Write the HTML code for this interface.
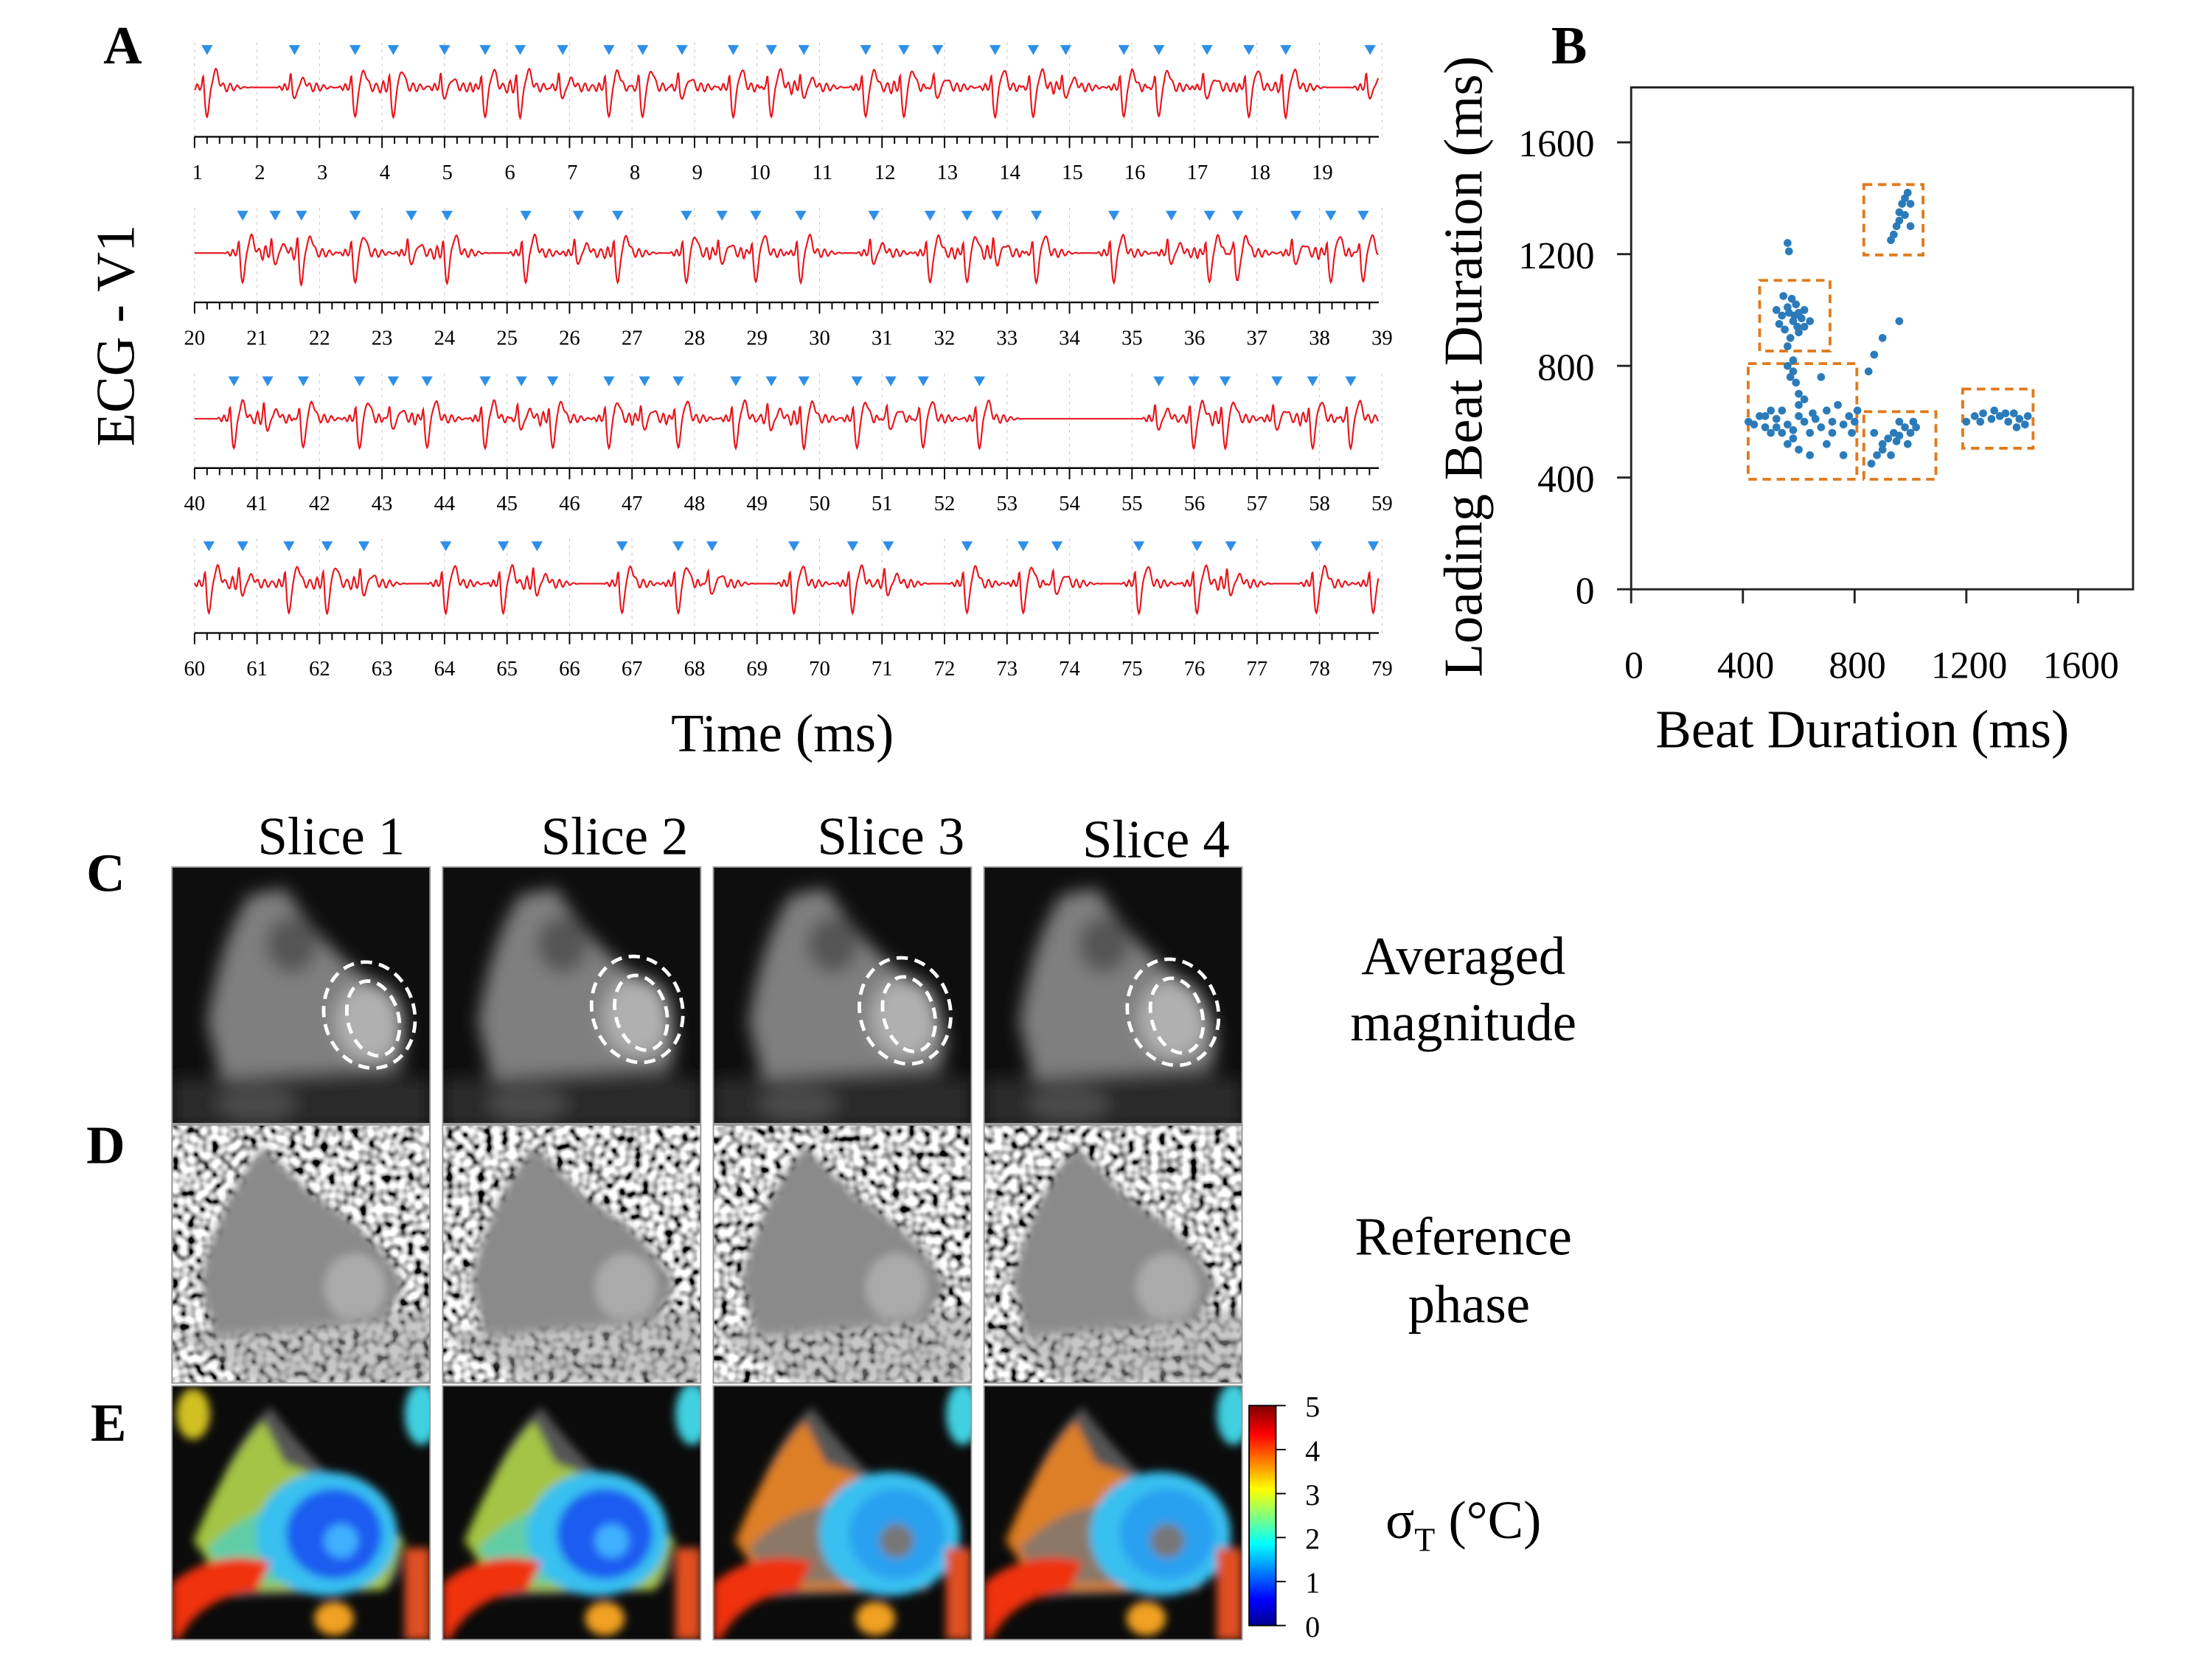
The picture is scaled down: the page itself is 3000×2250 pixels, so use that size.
<!DOCTYPE html>
<html><head><meta charset="utf-8"><style>
html,body{margin:0;padding:0;background:#fff;}
svg{display:block;}
text{font-family:"Liberation Serif",serif;fill:#000;}
</style></head><body>
<svg id="fig" width="3000" height="2250" viewBox="0 0 1569 1176.75" preserveAspectRatio="none" xmlns="http://www.w3.org/2000/svg">
<defs>
 <filter id="blur3" x="-30%" y="-30%" width="160%" height="160%"><feGaussianBlur stdDeviation="3"/></filter>
 <filter id="blur6" x="-30%" y="-30%" width="160%" height="160%"><feGaussianBlur stdDeviation="6"/></filter>
 <filter id="noise" x="0" y="0" width="100%" height="100%">
  <feTurbulence type="fractalNoise" baseFrequency="0.18" numOctaves="1" seed="3"/>
  <feColorMatrix type="matrix" values="3 0 0 0 -0.9  3 0 0 0 -0.9  3 0 0 0 -0.9  0 0 0 0 1"/>
 </filter>
 <linearGradient id="jet" x1="0" y1="1" x2="0" y2="0">
  <stop offset="0" stop-color="#00008f"/><stop offset="0.12" stop-color="#0000ff"/>
  <stop offset="0.37" stop-color="#00ffff"/><stop offset="0.62" stop-color="#ffff00"/>
  <stop offset="0.87" stop-color="#ff0000"/><stop offset="1" stop-color="#800000"/>
 </linearGradient>
</defs>

<text x="87" y="45" font-size="38" font-weight="bold" text-anchor="middle">A</text>
<text transform="translate(95,238) rotate(-90)" font-size="39" text-anchor="middle">ECG - V1</text>
<text x="555" y="533" font-size="38" text-anchor="middle">Time (ms)</text>
<g id="ecg"></g>

<text x="1113" y="45" font-size="38" font-weight="bold" text-anchor="middle">B</text>
<g id="scatter"></g>
<text x="1321" y="530" font-size="38" text-anchor="middle">Beat Duration (ms)</text>
<text transform="translate(1051,260) rotate(-90)" font-size="39" text-anchor="middle">Loading Beat Duration (ms)</text>

<text x="75" y="632" font-size="38" font-weight="bold" text-anchor="middle">C</text>
<text x="75" y="825" font-size="38" font-weight="bold" text-anchor="middle">D</text>
<text x="77" y="1022" font-size="38" font-weight="bold" text-anchor="middle">E</text>
<text x="235" y="606" font-size="38" text-anchor="middle">Slice 1</text>
<text x="436" y="606" font-size="38" text-anchor="middle">Slice 2</text>
<text x="632" y="606" font-size="38" text-anchor="middle">Slice 3</text>
<text x="820" y="608" font-size="38" text-anchor="middle">Slice 4</text>
<text x="1038" y="691" font-size="38" text-anchor="middle">Averaged</text>
<text x="1038" y="738" font-size="38" text-anchor="middle">magnitude</text>
<text x="1038" y="890" font-size="38" text-anchor="middle">Reference</text>
<text x="1042" y="938" font-size="38" text-anchor="middle">phase</text>
<text x="1038" y="1091" font-size="38" text-anchor="middle">σ<tspan font-size="24" dy="9">T</tspan><tspan dy="-9"> (°C)</tspan></text>
<g id="images"></g>
<g>
 <rect x="886" y="997" width="19" height="156" fill="url(#jet)" stroke="#000" stroke-width="1"/>
</g>
<g id="cbticks"></g>
</svg>
<script>
const NS="http://www.w3.org/2000/svg";
function mk(tag,attrs,parent){const e=document.createElementNS(NS,tag);for(const k in attrs)e.setAttribute(k,attrs[k]);parent.appendChild(e);return e;}

const ecgRowStarts=[1,20,40,60];
const ecgTickLabels=[[1,2,3,4,5,6,7,8,9,10,11,12,13,14,15,16,17,18,19],[20,21,22,23,24,25,26,27,28,29,30,31,32,33,34,35,36,37,38,39],[40,41,42,43,44,45,46,47,48,49,50,51,52,53,54,55,56,57,58,59],[60,61,62,63,64,65,66,67,68,69,70,71,72,73,74,75,76,77,78,79]];
const beatsRow1=[1.2,2.6,3.57,4.18,5.0,5.65,6.21,6.89,7.63,8.17,8.8,9.62,10.23,10.75,11.74,12.35,12.89,13.81,14.42,14.94,15.87,16.43,17.2,17.87,18.46,19.81];
const beatsRow2=[20.77,21.29,21.71,22.57,23.47,24.04,25.3,26.14,26.77,27.87,28.44,28.98,29.7,30.87,31.77,32.36,32.84,33.47,34.71,35.63,36.24,36.69,37.62,38.18,38.7];
const beatsRow3=[40.63,41.17,41.74,42.64,43.18,43.72,44.65,45.23,45.73,46.63,47.2,47.74,48.66,49.23,49.75,50.6,51.14,51.66,52.56,55.43,55.99,56.49,57.32,57.89,58.5];
const beatsRow4=[60.23,60.77,61.51,62.12,62.71,64.02,64.94,65.48,66.84,67.74,68.28,69.59,70.53,71.1,72.36,73.26,73.8,75.11,76.04,76.58,77.95,78.86];
const beatRows=[beatsRow1,beatsRow2,beatsRow3,beatsRow4];

const ecgG=document.getElementById('ecg');
const rowTop=[0,117.5,235,352];
const X0=138,UNIT=44.33;
beatRows.forEach((beats,r)=>{
  const off=rowTop[r], start=ecgRowStarts[r];
  const xs=t=>X0+(t-start)*UNIT;
  const base=62+off, axisY=97+off;
  for(let i=0;i<=19;i++){
    const l=mk('line',{x1:xs(start+i),x2:xs(start+i),y1:30+off,y2:axisY,stroke:'#ccc','stroke-width':0.6,'stroke-dasharray':'2,3'},ecgG);
    
    
  }
  const ax=mk('line',{x1:X0,x2:978,y1:axisY,y2:axisY,stroke:'#000','stroke-width':1.2},ecgG);
  
  
  for(let i=0;i<=95;i++){
    const t=start+i*0.2, x=xs(t); if(x>978.5)break;
    const major=(i%5===0);
    const tk=mk('line',{x1:x,x2:x,y1:axisY,y2:axisY+(major?8:5),stroke:'#000','stroke-width':1},ecgG);
    
    
  }
  ecgTickLabels[r].forEach(v=>{
    const tx=mk('text',{x:xs(v)+(r===0?2:0),y:axisY+30,'font-size':15,'text-anchor':'middle'},ecgG);
    tx.textContent=v;
    
    
  });
  let d='';
  const tEnd=start+(978-X0)/UNIT;
  for(let t=start;t<=tEnd;t+=0.01){
    let y=0;
    beats.forEach((b,k)=>{
      const dt=t-b;
      if(dt<-0.3||dt>0.8)return;
      const big=(k%3!==1);
      y+=11*Math.exp(-Math.pow((dt+0.06)/0.02,2));
      y-=(big?21:8)*Math.exp(-Math.pow(dt/0.045,2));
      y+=(big?12:6)*Math.exp(-Math.pow((dt-0.14)/0.06,2));
      y+=3*Math.sin(dt*55+k)*Math.exp(-Math.pow((dt-0.32)/0.2,2));
      y+=2.5*Math.sin(dt*70)*Math.exp(-Math.pow((dt+0.16)/0.08,2));
    });
    d+=(d?'L':'M')+xs(t).toFixed(1)+','+(base-y).toFixed(1);
  }
  const p=mk('path',{d:d,fill:'none',stroke:'#e8141b','stroke-width':1.1},ecgG);
  
  
  beats.forEach(b=>{
    const x=xs(b),y=32+off;
    const tri=mk('polygon',{points:`${x-4},${y} ${x+4},${y} ${x},${y+7}`,fill:'#2f8fe8'},ecgG);
    
    
  });
});

const xTicks=[0,400,800,1200,1600];
const yTicks=[0,400,800,1200,1600];
const beatDur=[520,540,560,580,600,620,550,570,590,610,530,575,600,560,620,545,585,640,595,565,560,565,
560,580,570,590,600,580,
420,440,460,480,500,520,540,560,580,600,620,640,660,680,700,720,740,760,780,500,540,560,600,640,700,760,600,620,580,480,520,650,680,720,790,800,810,
930,950,960,970,980,990,960,1000,1000,980,940,
870,900,960,850,
860,880,900,920,940,960,980,1000,1020,900,950,990,870,930,1010,960,
1200,1230,1260,1290,1320,1350,1370,1390,1410,1380,1340,1300,1250,1420];
const loadDur=[1000,980,1010,960,990,940,930,900,1020,970,950,1040,920,870,1000,1050,980,960,940,990,1240,1210,
800,780,760,740,700,820,
600,590,620,580,560,610,640,590,570,620,600,560,610,580,640,600,660,590,620,640,560,520,500,480,520,480,660,680,540,620,580,630,760,560,560,600,640,
1250,1300,1350,1380,1400,1420,1320,1380,1300,1340,1270,
840,900,960,780,
450,480,520,540,560,550,580,560,580,500,530,520,560,480,600,600,
600,620,630,610,620,600,630,610,590,580,630,640,600,620];
const boxX0=[419,460,833,833,1187], boxX1=[808,712,1045,1091,1439];
const boxY0=[394,853,1197,394,505], boxY1=[808,1106,1449,636,717];

const sg=document.getElementById('scatter');
const PX0=1157,PY0=418,K=(1474-1157)/1600;
const sx=v=>PX0+v*K, sy=v=>PY0-v*K;
const fr=mk('rect',{x:1157,y:62,width:356,height:356,fill:'none',stroke:'#222','stroke-width':1.5},sg);


xTicks.forEach(v=>{
  const l=mk('line',{x1:sx(v),x2:sx(v),y1:418,y2:428,stroke:'#222','stroke-width':1.5},sg);
  
  
  const t=mk('text',{x:sx(v)+2,y:481,'font-size':27,'text-anchor':'middle'},sg);
  t.textContent=v;
  
  
});
yTicks.forEach(v=>{
  const l=mk('line',{x1:1147,x2:1157,y1:sy(v),y2:sy(v),stroke:'#222','stroke-width':1.5},sg);
  
  
  const t=mk('text',{x:1131,y:sy(v)+10,'font-size':27,'text-anchor':'end'},sg);
  t.textContent=v;
  
  
});
boxX0.forEach((b,i)=>{
  const r=mk('rect',{x:sx(b),y:sy(boxY1[i]),width:sx(boxX1[i])-sx(b),height:sy(boxY0[i])-sy(boxY1[i]),fill:'none',stroke:'#e07a1c','stroke-width':2,'stroke-dasharray':'6,4'},sg);
  
  
});
beatDur.forEach((v,i)=>{
  const c=mk('circle',{cx:sx(v),cy:sy(loadDur[i]),r:2.8,fill:'#2b7bba'},sg);
  
  
});

const ig=document.getElementById('images');
const colX=[122,314,506,698], rowY=[615,798,983], W=183, H=[182,183,180];
const ringCx=[262,452,642,832], ringCy=[720,716,717,718];
colX.forEach((x0,c)=>{
  rowY.forEach((y0,r)=>{
    const g=mk('g',{},ig);
    
    
    const cid='clip'+c+'_'+r;
    const cp=mk('clipPath',{id:cid},g); mk('rect',{x:x0,y:y0,width:W,height:H[r]},cp);
    const inner=mk('g',{'clip-path':`url(#${cid})`},g);
    if(r===0){
      mk('rect',{x:x0,y:y0,width:W,height:H[r],fill:'#0e0e0e'},inner);
      const b=mk('g',{filter:'url(#blur6)'},inner);
      mk('path',{d:`M${x0+25},${y0+110} Q${x0+35},${y0+50} ${x0+55},${y0+20} L${x0+80},${y0+15} Q${x0+105},${y0+55} ${x0+140},${y0+80} Q${x0+175},${y0+110} ${x0+160},${y0+145} L${x0+35},${y0+150} Z`,fill:'#7f7f7f'},b);
      mk('ellipse',{cx:x0+85,cy:y0+55,rx:18,ry:20,fill:'#555'},b);
      mk('ellipse',{cx:ringCx[c],cy:ringCy[c]+5,rx:24,ry:28,fill:'#b0b0b0'},b);
      mk('rect',{x:x0,y:y0+150,width:W,height:35,fill:'#2c2c2c'},b);
      mk('ellipse',{cx:x0+60,cy:y0+168,rx:28,ry:14,fill:'#4a4a4a'},b);
      const rx=ringCx[c],ry=ringCy[c];
      mk('ellipse',{cx:rx,cy:ry,rx:32,ry:38,transform:`rotate(-15 ${rx} ${ry})`,fill:'none',stroke:'#fff','stroke-width':2.5,'stroke-dasharray':'8,5'},inner);
      mk('ellipse',{cx:rx+2,cy:ry+3,rx:18,ry:27,transform:`rotate(-15 ${rx} ${ry})`,fill:'none',stroke:'#fff','stroke-width':2.5,'stroke-dasharray':'8,5'},inner);
    } else if(r===1){
      mk('rect',{x:x0,y:y0,width:W,height:H[r],fill:'#888',filter:'url(#noise)'},inner);
      const b=mk('g',{filter:'url(#blur3)'},inner);
      mk('path',{d:`M${x0+20},${y0+110} Q${x0+35},${y0+50} ${x0+65},${y0+15} L${x0+100},${y0+50} Q${x0+150},${y0+80} ${x0+165},${y0+115} L${x0+150},${y0+140} L${x0+30},${y0+150} Z`,fill:'#8a8a8a'},b);
      mk('ellipse',{cx:x0+130,cy:y0+115,rx:22,ry:24,fill:'#aaa'},b);
      mk('path',{d:`M${x0},${y0+148} L${x0+W},${y0+130} L${x0+W},${y0+H[r]} L${x0+60},${y0+H[r]} Z`,fill:'#999',opacity:0.55},b);
    } else {
      mk('rect',{x:x0,y:y0,width:W,height:H[r],fill:'#0b0b0b'},inner);
      const b=mk('g',{filter:'url(#blur3)'},inner);
      mk('path',{d:`M${x0+20},${y0+110} Q${x0+40},${y0+40} ${x0+70},${y0+15} Q${x0+110},${y0+70} ${x0+150},${y0+90} Q${x0+175},${y0+130} ${x0+150},${y0+145} L${x0+40},${y0+150} Z`,fill:'#555'},b);
      const hot=c>=2;
      mk('path',{d:`M${x0+15},${y0+110} Q${x0+40},${y0+50} ${x0+65},${y0+25} L${x0+80},${y0+55} Q${x0+130},${y0+70} ${x0+165},${y0+110} L${x0+150},${y0+145} L${x0+40},${y0+145} Z`,fill:hot?'#ff8a1a':'#b8e040',opacity:0.8},b);
      mk('path',{d:`M${x0+25},${y0+115} Q${x0+60},${y0+80} ${x0+100},${y0+85} L${x0+110},${y0+140} L${x0+40},${y0+140} Z`,fill:hot?'#777':'#50d0c0',opacity:0.8},b);
      mk('ellipse',{cx:x0+(hot?125:110),cy:y0+105,rx:50,ry:44,fill:'#39c0f0'},b);
      mk('ellipse',{cx:x0+(hot?130:115),cy:y0+105,rx:34,ry:32,fill:c<2?'#1a5cf0':'#2aa0f0'},b);
      mk('ellipse',{cx:x0+(hot?130:120),cy:y0+110,rx:12,ry:12,fill:c<2?'#40b0ff':'#777'},b);
      mk('path',{d:`M${x0},${y0+140} Q${x0+30},${y0+115} ${x0+70},${y0+125} L${x0+60},${y0+145} Q${x0+20},${y0+150} ${x0+5},${y0+H[r]} L${x0},${y0+H[r]} Z`,fill:'#f03010'},b);
      mk('rect',{x:x0+W-18,y:y0+115,width:18,height:65,fill:'#e05020'},b);
      mk('ellipse',{cx:x0+W-6,cy:y0+20,rx:12,ry:22,fill:'#40d0e0'},b);
      mk('ellipse',{cx:x0+115,cy:y0+165,rx:14,ry:12,fill:'#f0a020'},b);
      if(c===0) mk('ellipse',{cx:x0+15,cy:y0+20,rx:12,ry:18,fill:'#d0c020'},b);
    }
    mk('rect',{x:x0,y:y0,width:W,height:H[r],fill:'none',stroke:'#999','stroke-width':1},g);
  });
});

const cbTicks=[0,1,2,3,4,5];
const cbt=document.getElementById('cbticks');
cbTicks.forEach(v=>{
  const y=1153-v*(156/5);
  const l=mk('line',{x1:905,x2:912,y1:y,y2:y,stroke:'#000','stroke-width':1},cbt);
  
  
  const t=mk('text',{x:931,y:y+8,'font-size':21,'text-anchor':'middle'},cbt);
  t.textContent=v;
  
  
});
</script>
</body></html>
